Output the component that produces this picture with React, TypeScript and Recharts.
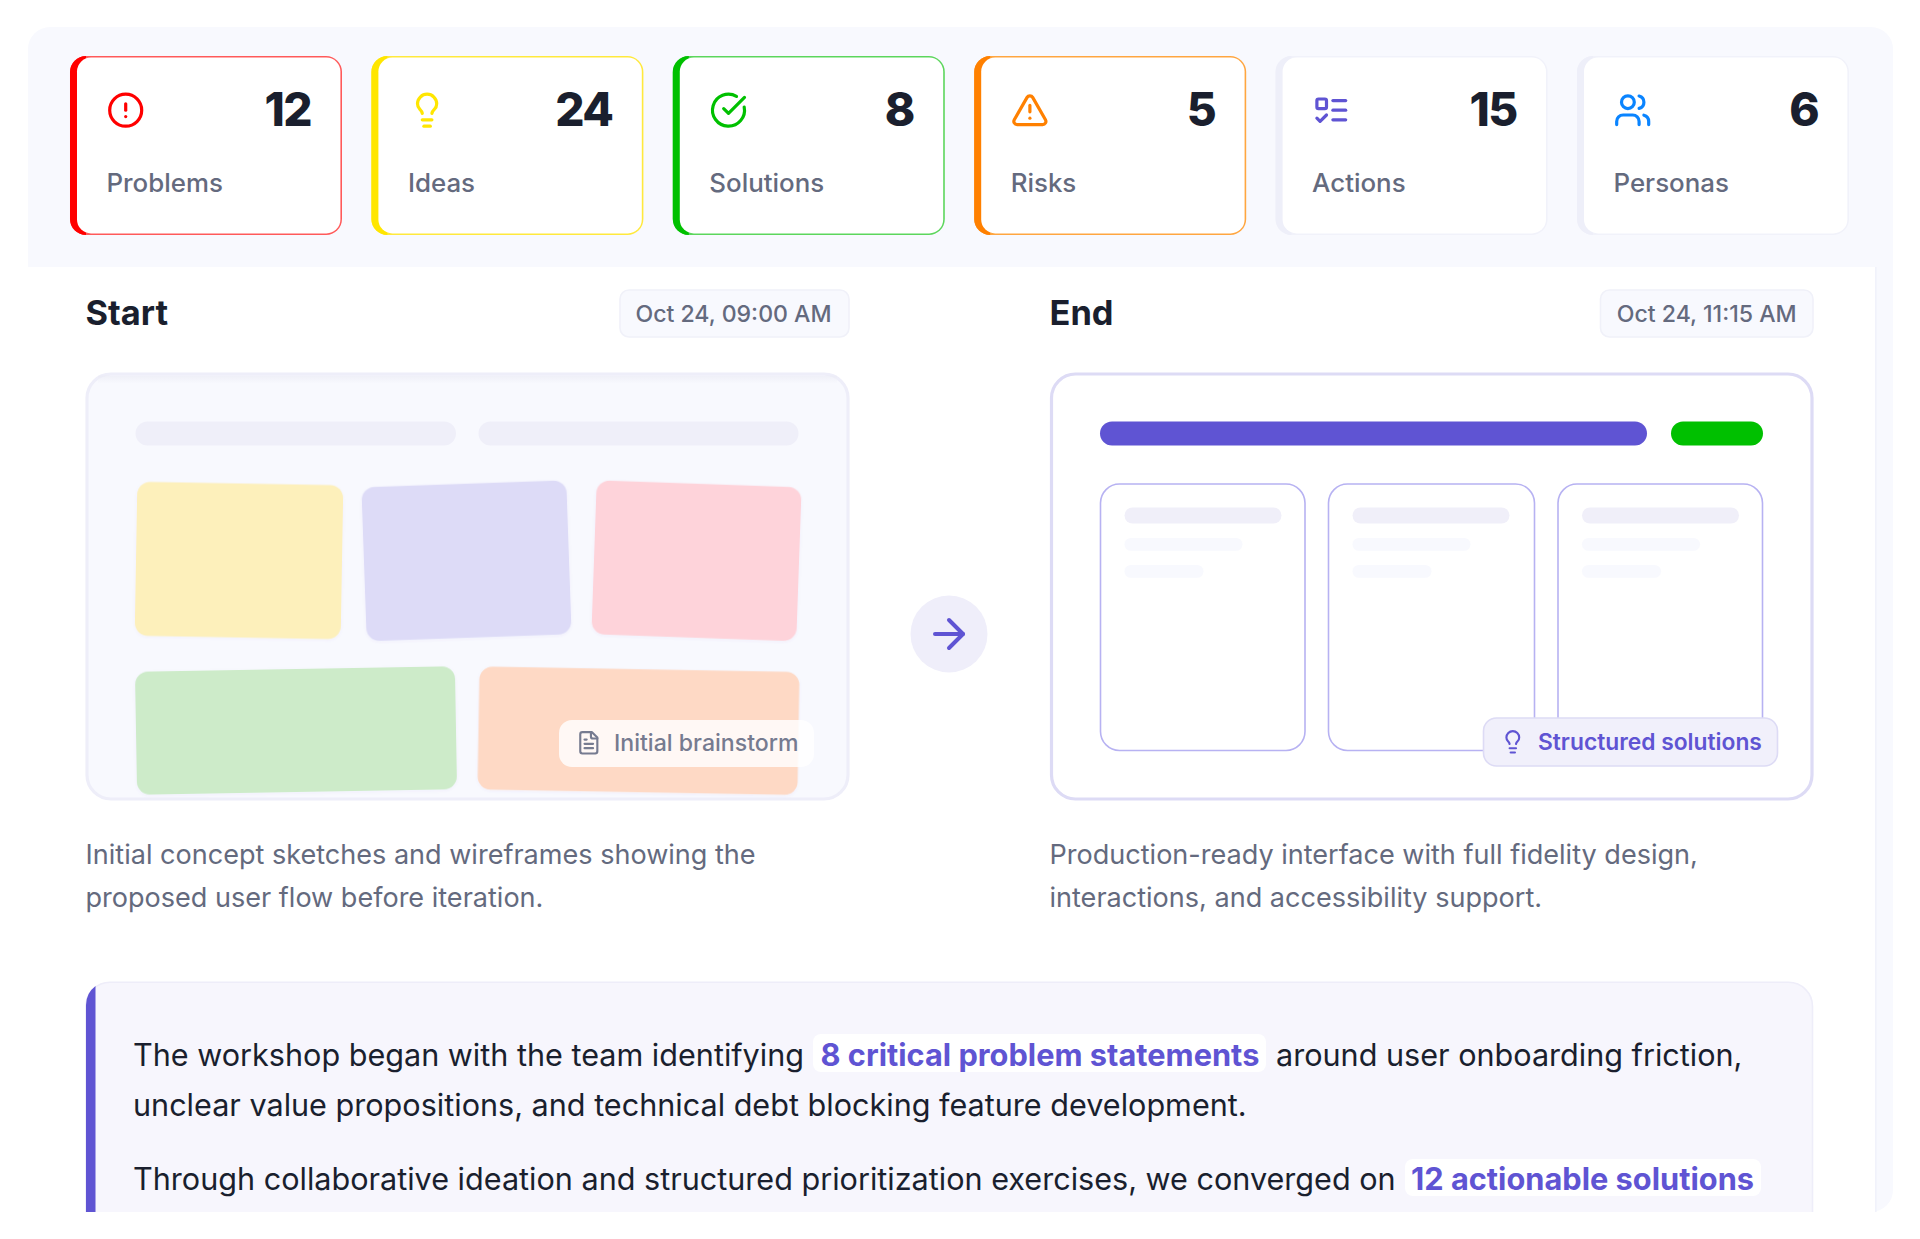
import React from "react";
import { BarChart, Bar, XAxis, YAxis } from "recharts";

const statLabels = ["Problems", "Ideas", "Solutions", "Risks", "Actions", "Personas"];
const statCounts = [12, 24, 8, 5, 15, 6];

const cardStyles: Record<string, { edge: string; line: string; icon: string }> = {
  Problems: { edge: "#ff0000", line: "#ff5a5a", icon: "#ff0000" },
  Ideas: { edge: "#ffe600", line: "#ffe93d", icon: "#ffe600" },
  Solutions: { edge: "#00c000", line: "#5cd65c", icon: "#00c000" },
  Risks: { edge: "#ff8000", line: "#ffa640", icon: "#ff8000" },
  Actions: { edge: "#eeeff9", line: "#f1f2fa", icon: "#5f54d3" },
  Personas: { edge: "#eeeff9", line: "#f1f2fa", icon: "#0a84ff" },
};

const chartData = statLabels.map((label, i) => ({ label, count: statCounts[i] }));

const FONT = "Inter, sans-serif";
const INK = "#1a1f2e";
const MUTED = "#646a7e";
const PURPLE = "#5f54d3";
const CARD_H = 179;

function IconPaths({ name }: { name: string }) {
  switch (name) {
    case "Problems":
      return (
        <>
          <circle cx="12" cy="12" r="10" />
          <path d="M12 8v4" />
          <path d="M12 16h.01" />
        </>
      );
    case "Ideas":
      return <Bulb />;
    case "Solutions":
      return (
        <>
          <path d="M21.801 10A10 10 0 1 1 17 3.335" />
          <path d="m9 11 3 3L22 4" />
        </>
      );
    case "Risks":
      return (
        <>
          <path d="m21.73 18-8-14a2 2 0 0 0-3.48 0l-8 14A2 2 0 0 0 4 21h16a2 2 0 0 0 1.73-3" />
          <path d="M12 9v4" />
          <path d="M12 17h.01" />
        </>
      );
    case "Actions":
      return (
        <>
          <rect x="3" y="5" width="6" height="6" rx="1" />
          <path d="m3 17 2 2 4-4" />
          <path d="M13 6h8" />
          <path d="M13 12h8" />
          <path d="M13 18h8" />
        </>
      );
    default:
      return (
        <>
          <path d="M16 21v-2a4 4 0 0 0-4-4H6a4 4 0 0 0-4 4v2" />
          <circle cx="9" cy="7" r="4" />
          <path d="M22 21v-2a4 4 0 0 0-3-3.87" />
          <path d="M16 3.13a4 4 0 0 1 0 7.75" />
        </>
      );
  }
}

function Bulb() {
  return (
    <>
      <path d="M15 14c.2-1 .7-1.7 1.5-2.5 1-.9 1.5-2.2 1.5-3.5A6 6 0 0 0 6 8c0 1 .2 2.2 1.5 3.5.7.7 1.3 1.5 1.5 2.5" />
      <path d="M9 18h6" />
      <path d="M10 22h4" />
    </>
  );
}

function Icon({ x, y, size, color, children }: any) {
  const s = size / 24;
  return (
    <g
      transform={`translate(${x} ${y}) scale(${s})`}
      fill="none"
      stroke={color}
      strokeWidth={2}
      strokeLinecap="round"
      strokeLinejoin="round"
    >
      {children}
    </g>
  );
}

// the card is the bar: x and width come from the band scale, the count is printed
function StatCard(props: any) {
  const { x, width, payload } = props;
  const st = cardStyles[payload.label];
  const r = 16;
  return (
    <g>
      <rect x={x} y={0} width={width} height={CARD_H} rx={r} fill={st.line} />
      <path
        d={`M${x + r} 0 A${r} ${r} 0 0 0 ${x} ${r} V${CARD_H - r} A${r} ${r} 0 0 0 ${x + r} ${CARD_H} Z`}
        fill={st.edge}
      />
      <rect x={x + 7} y={1.6} width={width - 8.6} height={CARD_H - 3.2} rx={14} fill="#ffffff" />
      <Icon x={x + 36.5} y={35} size={38.4} color={st.icon}>
        <IconPaths name={payload.label} />
      </Icon>
      <text
        x={x + width - 31}
        y={70}
        textAnchor="end"
        fontFamily={FONT}
        fontSize={46}
        fontWeight={800}
        letterSpacing={-1.6}
        fill={INK}
      >
        {payload.count}
      </text>
      <text x={x + 36.5} y={136.5} fontFamily={FONT} fontSize={25.9} fontWeight={500} fill={MUTED}>
        {payload.label}
      </text>
    </g>
  );
}

function T({ x, y, size, weight = 400, color = INK, anchor, children }: any) {
  return (
    <text
      x={x}
      y={y}
      fontFamily={FONT}
      fontSize={size}
      fontWeight={weight}
      fill={color}
      textAnchor={anchor}
    >
      {children}
    </text>
  );
}

function Note({ cx, cy, w, h, angle, fill }: any) {
  return (
    <rect
      x={cx - w / 2}
      y={cy - h / 2}
      width={w}
      height={h}
      rx={13}
      fill={fill}
      transform={`rotate(${angle} ${cx} ${cy})`}
      filter="url(#soft)"
    />
  );
}

function Column({ x, right, bottom }: any) {
  return (
    <g>
      <rect
        x={x}
        y={484}
        width={right - x}
        height={bottom - 484}
        rx={19}
        fill="#ffffff"
        stroke="#b7b2f2"
        strokeWidth={1.6}
      />
      <rect x={x + 24} y={507.5} width={157} height={16} rx={8} fill="#f0eff9" />
      <rect x={x + 24} y={538} width={118} height={12.8} rx={6.4} fill="#f8f9fe" />
      <rect x={x + 24} y={565} width={79} height={12.8} rx={6.4} fill="#f8f9fe" />
    </g>
  );
}

export default function App() {
  return (
    <div style={{ position: "absolute", left: 0, top: 0, width: 1920, height: 1239, background: "#fff", overflow: "hidden" }}>
      <svg width={1920} height={1239} style={{ position: "absolute", left: 0, top: 0 }}>
        <defs>
          <filter id="soft" x="-5%" y="-5%" width="110%" height="112%">
            <feDropShadow dx="0" dy="1" stdDeviation="1.5" floodColor="#5f54d3" floodOpacity="0.06" />
          </filter>
          <linearGradient id="inset" x1="0" y1="0" x2="0" y2="1">
            <stop offset="0" stopColor="#e9e9f3" />
            <stop offset="1" stopColor="#f8f9fe" />
          </linearGradient>
          <clipPath id="page">
            <rect x={0} y={0} width={1920} height={1212} />
          </clipPath>
        </defs>

        <g clipPath="url(#page)">
          {/* outer panel and right strip */}
          <rect x={28} y={27} width={1865} height={1185} rx={22} fill="#f8f9fe" />
          <rect x={0} y={267} width={1875} height={972} fill="#ffffff" />
          <rect x={1875} y={267} width={1.6} height={945} fill="#f1f2fb" />

          {/* start */}
          <T x={85.5} y={324.5} size={34.4} weight={700}>Start</T>
          <rect x={620} y={290} width={229} height={47} rx={9} fill="#f8f9fe" stroke="#f0f1f9" strokeWidth={1.6} />
          <T x={733.5} y={322} size={23.1} weight={500} color={MUTED} anchor="middle">Oct 24, 09:00 AM</T>

          <rect x={87} y={374} width={761} height={425} rx={24} fill="#f8f9fe" stroke="#eeeef9" strokeWidth={3.2} />
          <rect x={98} y={375.6} width={739} height={8} fill="url(#inset)" opacity={0.6} />
          <rect x={135.5} y={421.5} width={320.5} height={24} rx={12} fill="#efeff9" />
          <rect x={478.5} y={421.5} width={320} height={24} rx={12} fill="#efeff9" />
          <Note cx={239} cy={560.5} w={206} h={154} angle={1} fill="#fdf0bb" />
          <Note cx={466.5} cy={560.8} w={205} h={154} angle={-2} fill="#dddbf7" />
          <Note cx={696.5} cy={560.8} w={205} h={154} angle={2} fill="#fed3da" />
          <Note cx={296} cy={730.5} w={320} h={123} angle={-1} fill="#cdebc9" />
          <Note cx={638.5} cy={730.8} w={320} h={123} angle={1} fill="#fed9c5" />
          <rect x={559} y={720} width={255} height={47} rx={13} fill="#ffffff" fillOpacity={0.82} />
          <Icon x={576} y={730} size={25.6} color="#767b90">
            <path d="M15 2H6a2 2 0 0 0-2 2v16a2 2 0 0 0 2 2h12a2 2 0 0 0 2-2V7Z" />
            <path d="M14 2v4a2 2 0 0 0 2 2h4" />
            <path d="M10 9H8" />
            <path d="M16 13H8" />
            <path d="M16 17H8" />
          </Icon>
          <T x={614} y={751} size={23.1} weight={500} color="#767b90">Initial brainstorm</T>

          <T x={85.5} y={863.5} size={27.05} color={MUTED}>Initial concept sketches and wireframes showing the</T>
          <T x={85.5} y={906.5} size={27.05} color={MUTED}>proposed user flow before iteration.</T>

          {/* arrow */}
          <circle cx={949} cy={634} r={38.5} fill="#efeefa" />
          <Icon x={925} y={610} size={48} color={PURPLE}>
            <path d="M5 12h14" />
            <path d="m12 5 7 7-7 7" />
          </Icon>

          {/* end */}
          <T x={1049.5} y={324.5} size={34.4} weight={700}>End</T>
          <rect x={1600.5} y={290} width={212.5} height={47} rx={9} fill="#f8f9fe" stroke="#f0f1f9" strokeWidth={1.6} />
          <T x={1706.7} y={322} size={23.1} weight={500} color={MUTED} anchor="middle">Oct 24, 11:15 AM</T>

          <rect x={1051.5} y={374} width={760.5} height={425} rx={24} fill="#ffffff" stroke="#dddbf5" strokeWidth={3.2} />
          <rect x={1100} y={421.5} width={547} height={24} rx={12} fill={PURPLE} />
          <rect x={1671} y={421.5} width={92} height={24} rx={12} fill="#00c000" />
          <Column x={1100.5} right={1305} bottom={750.5} />
          <Column x={1328.5} right={1534.5} bottom={750.5} />
          <Column x={1558} right={1762.5} bottom={750.5} />
          <rect x={1483.5} y={718} width={294} height={48} rx={13} fill="#f1f0fb" stroke="#dddbf5" strokeWidth={1.6} />
          <Icon x={1500} y={729} size={25.6} color={PURPLE}>
            <Bulb />
          </Icon>
          <T x={1538} y={750} size={22.8} weight={600} color={PURPLE}>Structured solutions</T>

          <T x={1049.5} y={863.5} size={27.05} color={MUTED}>Production-ready interface with full fidelity design,</T>
          <T x={1049.5} y={906.5} size={27.05} color={MUTED}>interactions, and accessibility support.</T>

          {/* callout, cut off at the page bottom */}
          <rect x={86} y={982.3} width={1726.5} height={300} rx={24} fill="#f7f6fd" stroke="#eeedf9" strokeWidth={1.6} />
          <path d="M86 1005 A24 24 0 0 1 95.5 986 V1240 H86 Z" fill={PURPLE} />
          <rect x={813} y={1034} width={453} height={38} rx={8} fill="#ffffff" />
          <rect x={1405} y={1159} width={356} height={37} rx={8} fill="#ffffff" />
          <T x={133} y={1066} size={30.58}>The workshop began with the team identifying</T>
          <T x={820.5} y={1066} size={30.75} weight={700} color={PURPLE}>8 critical problem statements</T>
          <T x={1276} y={1066} size={30.58}>around user onboarding friction,</T>
          <T x={133} y={1116} size={30.58}>unclear value propositions, and technical debt blocking feature development.</T>
          <T x={133} y={1189.5} size={30.58}>Through collaborative ideation and structured prioritization exercises, we converged on</T>
          <T x={1411} y={1189.5} size={30.75} weight={700} color={PURPLE}>12 actionable solutions</T>
        </g>
      </svg>

      <div style={{ position: "absolute", left: 54.7, top: 56 }}>
        <BarChart width={1808.4} height={CARD_H} data={chartData} margin={{ top: 0, right: 0, bottom: 0, left: 0 }}>
          <XAxis dataKey="label" hide />
          <YAxis hide domain={[0, "auto"]} />
          <Bar dataKey="count" barSize={272} shape={StatCard} isAnimationActive={false} />
        </BarChart>
      </div>
    </div>
  );
}
